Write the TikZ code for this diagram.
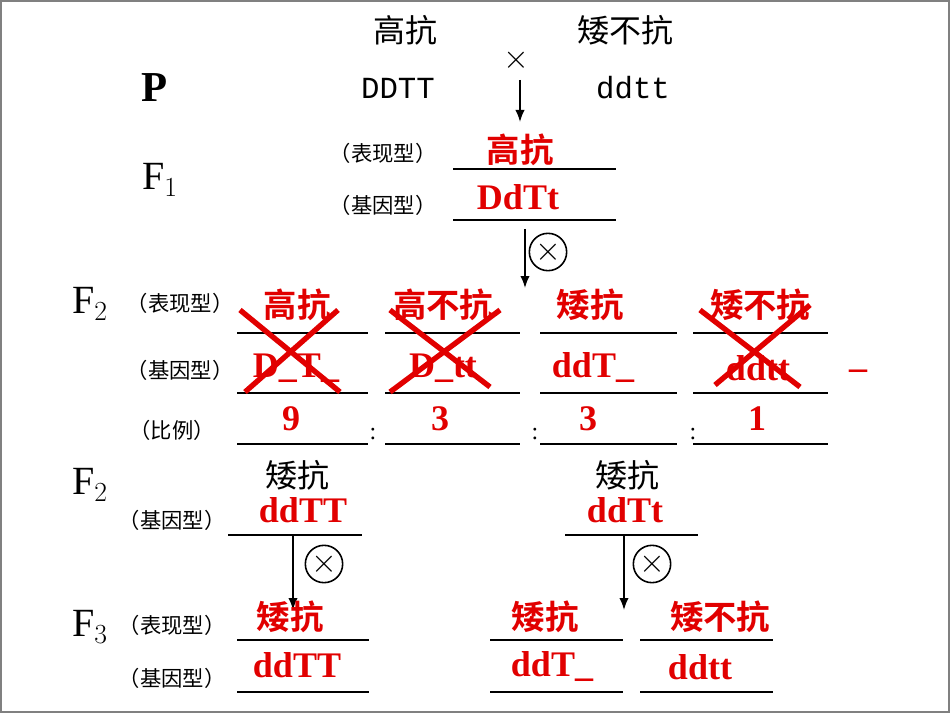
\documentclass[tikz,border=0pt]{standalone}
\usepackage{fontspec}
\setmainfont{Liberation Serif}
\newfontfamily\cjk{Noto Sans CJK SC}
\newfontfamily\cjkb{Noto Sans CJK SC Bold}
\newfontfamily\mono{Liberation Mono}
\definecolor{rd}{RGB}{225,0,0}
\begin{document}
\begin{tikzpicture}[x=0.75pt,y=-0.75pt,
  blk/.style={font=\cjk\fontsize{24}{26}\selectfont},
  lab/.style={font=\cjk\fontsize{16}{18}\selectfont},
  red/.style={text=rd,font=\cjkb\fontsize{25}{27}\selectfont},
  redl/.style={text=rd,font=\bfseries\fontsize{27}{29}\selectfont,inner sep=1pt},
  gen/.style={font=\fontsize{30}{30}\selectfont},
  ul/.style={line width=1.5pt},
  arr/.style={-{Latex[length=9pt,width=7pt]},line width=1.2pt},
  crs/.style={draw=rd,line width=4pt},
  sx/.style={circle,draw,line width=1.2pt,minimum size=28pt,inner sep=0pt,font=\fontsize{24}{24}\selectfont}]
\usetikzlibrary{arrows.meta}
\useasboundingbox (0,0) rectangle (950,713);
\draw[gray,line width=1.5pt] (1,1) rectangle (949,712);
% P
\node[blk] (h1) at (405,30) {高抗};
\node[blk] (h2) at (625,30) {矮不抗};
\node[font=\fontsize{28}{28}\selectfont] (x0) at (516,60) {$\times$};
\node[font=\bfseries\fontsize{32}{32}\selectfont] (P) at (155,88) {P};
\node[font=\mono\fontsize{23}{24}\selectfont] (pa) at (398,88) {DDTT};
\node[font=\mono\fontsize{23}{24}\selectfont] (pb) at (633,88) {ddtt};
\coordinate (a0s) at (520,80); \coordinate (a0e) at (520,122);
\draw[arr] (a0s) -- (a0e);
% F1
\node[gen] (F1) at (160,180) {F$_{\fontsize{20}{20}\selectfont 1}$};
\node[lab] (l1) at (383,153) {（表现型）};
\node[red] (f1p) at (520,150) {高抗};
\coordinate (u1a) at (453,169); \coordinate (u1b) at (616,169);
\draw[ul] (u1a) -- (u1b);
\node[lab] (l2) at (383,205) {（基因型）};
\node[redl] (f1g) at (518,197) {DdTt};
\coordinate (u2a) at (453,220); \coordinate (u2b) at (616,220);
\draw[ul] (u2a) -- (u2b);
\coordinate (a1s) at (525,229); \coordinate (a1e) at (525,288);
\draw[arr] (a1s) -- (a1e);
\node[sx] (s1) at (548,252) {$\times$};
% F2
\node[gen] (F2) at (90,304) {F$_{\fontsize{20}{20}\selectfont 2}$};
\node[lab] (l3) at (180,303) {（表现型）};
\node[lab] (l4) at (180,370) {（基因型）};
\node[lab] (l5) at (172,430) {（比例）};
\foreach \a/\b/\n in {237/368/1,385/520/2,540/677/3,693/828/4}{
  \coordinate (c\n a) at (\a,333); \coordinate (c\n b) at (\b,333);
  \draw[ul] (c\n a) -- (c\n b);
  \coordinate (d\n a) at (\a,393); \coordinate (d\n b) at (\b,393);
  \draw[ul] (d\n a) -- (d\n b);
  \coordinate (e\n a) at (\a,444); \coordinate (e\n b) at (\b,444);
  \draw[ul] (e\n a) -- (e\n b);
}
\node[red] (p1) at (297,305) {高抗};
\node[red] (p2) at (443,305) {高不抗};
\node[red] (p3) at (590,305) {矮抗};
\node[red] (p4) at (760,305) {矮不抗};
\node[redl] (g1) at (296,368) {D\_T\_};
\node[redl] (g2) at (443,368) {D\_tt};
\node[redl] (g3) at (593,368) {ddT\_};
\node[redl] (g4) at (758,368) {ddtt};
\node[redl] (g5) at (858,370) {\_};
\node[redl] (n1) at (291,419) {9};
\node[redl] (n2) at (440,419) {3};
\node[redl] (n3) at (588,419) {3};
\node[redl] (n4) at (757,419) {1};
\node[font=\fontsize{18}{18}\selectfont] (k1) at (373,434) {:};
\node[font=\fontsize{18}{18}\selectfont] (k2) at (535,434) {:};
\node[font=\fontsize{18}{18}\selectfont] (k3) at (693,434) {:};
\coordinate (x1a) at (240,310); \coordinate (x1b) at (340,392);
\coordinate (x1c) at (338,310); \coordinate (x1d) at (245,392);
\draw[crs] (x1a) -- (x1b); \draw[crs] (x1c) -- (x1d);
\coordinate (x2a) at (390,310); \coordinate (x2b) at (490,387);
\coordinate (x2c) at (500,310); \coordinate (x2d) at (390,392);
\draw[crs] (x2a) -- (x2b); \draw[crs] (x2c) -- (x2d);
\coordinate (x3a) at (700,310); \coordinate (x3b) at (800,387);
\coordinate (x3c) at (810,305); \coordinate (x3d) at (715,385);
\draw[crs] (x3a) -- (x3b); \draw[crs] (x3c) -- (x3d);
% F2 selfing
\node[gen] (F2b) at (90,485) {F$_{\fontsize{20}{20}\selectfont 2}$};
\node[blk] (q1) at (297,475) {矮抗};
\node[redl] (q1g) at (303,510) {ddTT};
\node[lab] (l6) at (172,520) {（基因型）};
\coordinate (v1a) at (228,535); \coordinate (v1b) at (362,535);
\draw[ul] (v1a) -- (v1b);
\coordinate (a2s) at (293,535); \coordinate (a2e) at (293,610);
\draw[arr] (a2s) -- (a2e);
\node[sx] (s2) at (324,564) {$\times$};
\node[blk] (q2) at (627,475) {矮抗};
\node[redl] (q2g) at (625,510) {ddTt};
\coordinate (v2a) at (565,535); \coordinate (v2b) at (698,535);
\draw[ul] (v2a) -- (v2b);
\coordinate (a3s) at (624,535); \coordinate (a3e) at (624,610);
\draw[arr] (a3s) -- (a3e);
\node[sx] (s3) at (652,564) {$\times$};
% F3
\node[gen] (F3) at (90,627) {F$_{\fontsize{20}{20}\selectfont 3}$};
\node[lab] (l7) at (172,625) {（表现型）};
\node[lab] (l8) at (172,678) {（基因型）};
\foreach \a/\b/\n in {237/369/1,490/623/2,640/773/3}{
  \coordinate (f\n a) at (\a,640); \coordinate (f\n b) at (\b,640);
  \draw[ul] (f\n a) -- (f\n b);
  \coordinate (h\n a) at (\a,692); \coordinate (h\n b) at (\b,692);
  \draw[ul] (h\n a) -- (h\n b);
}
\node[red] (r1) at (290,617) {矮抗};
\node[red] (r2) at (545,617) {矮抗};
\node[red] (r3) at (720,617) {矮不抗};
\node[redl] (t1) at (297,665) {ddTT};
\node[redl] (t2) at (552,667) {ddT\_};
\node[redl] (t3) at (700,667) {ddtt};
\end{tikzpicture}
\end{document}
